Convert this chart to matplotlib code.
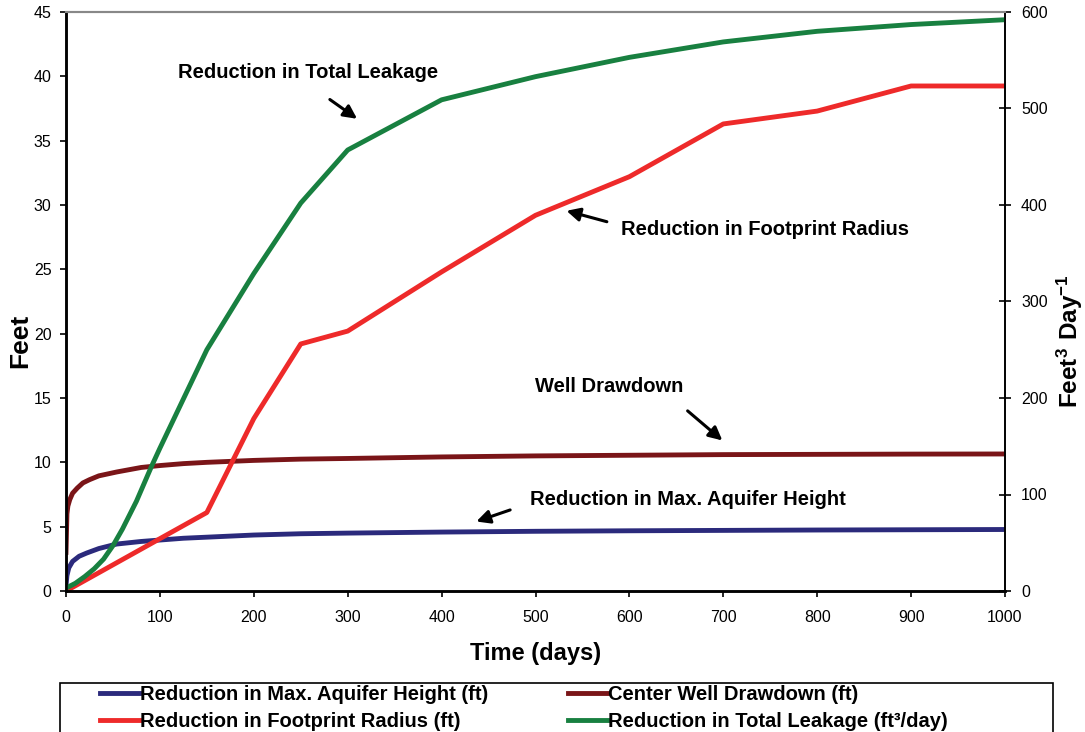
import matplotlib
matplotlib.use("Agg")
import matplotlib.pyplot as plt
from matplotlib.patches import Rectangle

plt.rcParams["font.family"] = ["Liberation Sans", "DejaVu Sans"]
plt.rcParams["mathtext.fontset"] = "custom"
plt.rcParams["mathtext.rm"] = "Liberation Sans"
plt.rcParams["mathtext.bf"] = "Liberation Sans:bold"

# Reduction in max. aquifer height (ft)
days_height = [0, 1, 3, 7, 14, 22, 35, 54, 80, 125, 200, 250, 300, 400,
               500, 600, 700, 800, 900, 1000]
height_ft = [0.4, 1.2, 1.8, 2.3, 2.7, 2.95, 3.3, 3.65, 3.85, 4.1, 4.35,
             4.45, 4.5, 4.58, 4.64, 4.68, 4.71, 4.74, 4.76, 4.78]

# Center well drawdown (ft)
days_draw = [0, 1, 2, 4, 7, 12, 18, 25, 35, 54, 80, 100, 125, 150, 200,
             250, 300, 400, 500, 600, 700, 800, 900, 1000]
drawdown_ft = [3.0, 6.0, 6.6, 7.1, 7.6, 8.0, 8.4, 8.65, 8.95, 9.25, 9.6,
               9.75, 9.9, 10.0, 10.15, 10.25, 10.3, 10.42, 10.5, 10.55,
               10.6, 10.62, 10.64, 10.65]

# Reduction in footprint radius (ft)
days_radius = [0, 150, 200, 250, 300, 400, 500, 600, 700, 800, 900, 1000]
radius_ft = [0, 6.1, 13.4, 19.2, 20.2, 24.8, 29.2, 32.2, 36.3, 37.3, 39.25,
             39.25]

# Reduction in total leakage (ft3/day)
days_leak = [0, 10, 20, 30, 40, 50, 60, 75, 91, 100, 150, 200, 250, 300,
             400, 500, 600, 700, 800, 900, 1000]
leakage = [3, 8, 15, 23, 33, 47, 64, 93, 129, 148, 250, 329, 402, 457, 509,
           533, 553, 569, 580, 587, 592]

fig = plt.figure(figsize=(10.85, 7.32), dpi=100)
ax = fig.add_axes([66 / 1085, 1 - 591 / 732, 939 / 1085, 579 / 732])
ax2 = ax.twinx()

lw = 3.5
l1, = ax.plot(days_height, height_ft, color="#2b2a7c", lw=lw,
              label="Reduction in Max. Aquifer Height (ft)")
l2, = ax.plot(days_draw, drawdown_ft, color="#7a1518", lw=lw,
              label="Center Well Drawdown (ft)")
l3, = ax.plot(days_radius, radius_ft, color="#ee2a2a", lw=lw,
              label="Reduction in Footprint Radius (ft)")
l4, = ax2.plot(days_leak, leakage, color="#188040", lw=lw,
               label="Reduction in Total Leakage (ft\u00b3/day)")

ax.set_xlim(0, 1000)
ax.set_ylim(0, 45)
ax2.set_ylim(0, 600)
ax.set_xticks(range(0, 1001, 100))
ax.set_yticks(range(0, 46, 5))
ax2.set_yticks(range(0, 601, 100))

ax.tick_params(axis="x", direction="out", length=4, width=1.2,
               labelsize=11.5, pad=10)
ax.tick_params(axis="y", direction="out", length=4, width=1.2,
               labelsize=11.5, pad=6.5)
ax2.tick_params(axis="y", direction="inout", length=9, width=1.2,
                labelsize=11.5, pad=7)

for a in (ax, ax2):
    a.spines["top"].set_color("#888888")
    a.spines["top"].set_linewidth(1.5)
    a.spines["left"].set_linewidth(1.8)
    a.spines["bottom"].set_linewidth(1.8)
    a.spines["right"].set_linewidth(1.2)

ax.set_xlabel("Time (days)", fontsize=17, fontweight="bold", labelpad=12)
ax.set_ylabel("Feet", fontsize=19, fontweight="bold", labelpad=1)
ax2.set_ylabel(r"$\mathbf{Feet^3\ Day^{-1}}$", fontsize=17.5, labelpad=5)
ax.yaxis.label.set_y(0.432)
ax2.yaxis.label.set_y(0.432)

# callouts
arrow = dict(arrowstyle="-|>", lw=2.2, color="black", mutation_scale=20,
             shrinkA=0, shrinkB=0)
txt = dict(fontsize=14.5, fontweight="bold", va="center", ha="left")

ax.text(119, 40.26, "Reduction in Total Leakage", **txt)
ax.annotate("", xy=(310, 36.7), xytext=(281, 38.2), arrowprops=arrow)

ax.text(591, 28.13, "Reduction in Footprint Radius", **txt)
ax.annotate("", xy=(533, 29.55), xytext=(576, 28.7), arrowprops=arrow)

ax.text(499, 15.93, "Well Drawdown", **txt)
ax.annotate("", xy=(699, 11.7), xytext=(662, 14.0), arrowprops=arrow)

ax.text(494, 7.15, "Reduction in Max. Aquifer Height", **txt)
ax.annotate("", xy=(437, 5.4), xytext=(473, 6.3), arrowprops=arrow)

# legend box runs off the bottom edge
fig.add_artist(Rectangle((60 / 1085, -0.1), 993 / 1085, 0.1 + 1 - 683 / 732,
                         transform=fig.transFigure, fill=False,
                         ec="black", lw=1.2))
fig.legend(handles=[l1, l3, l2, l4], ncol=2, frameon=False,
           loc="upper left", bbox_to_anchor=(98 / 1085, 1 - 683 / 732),
           borderpad=0.12, borderaxespad=0, handlelength=1.9,
           handletextpad=0.05, columnspacing=4.0, labelspacing=0.4,
           prop=dict(size=14.5, weight="bold"))

fig.savefig("out.png", dpi=100)
